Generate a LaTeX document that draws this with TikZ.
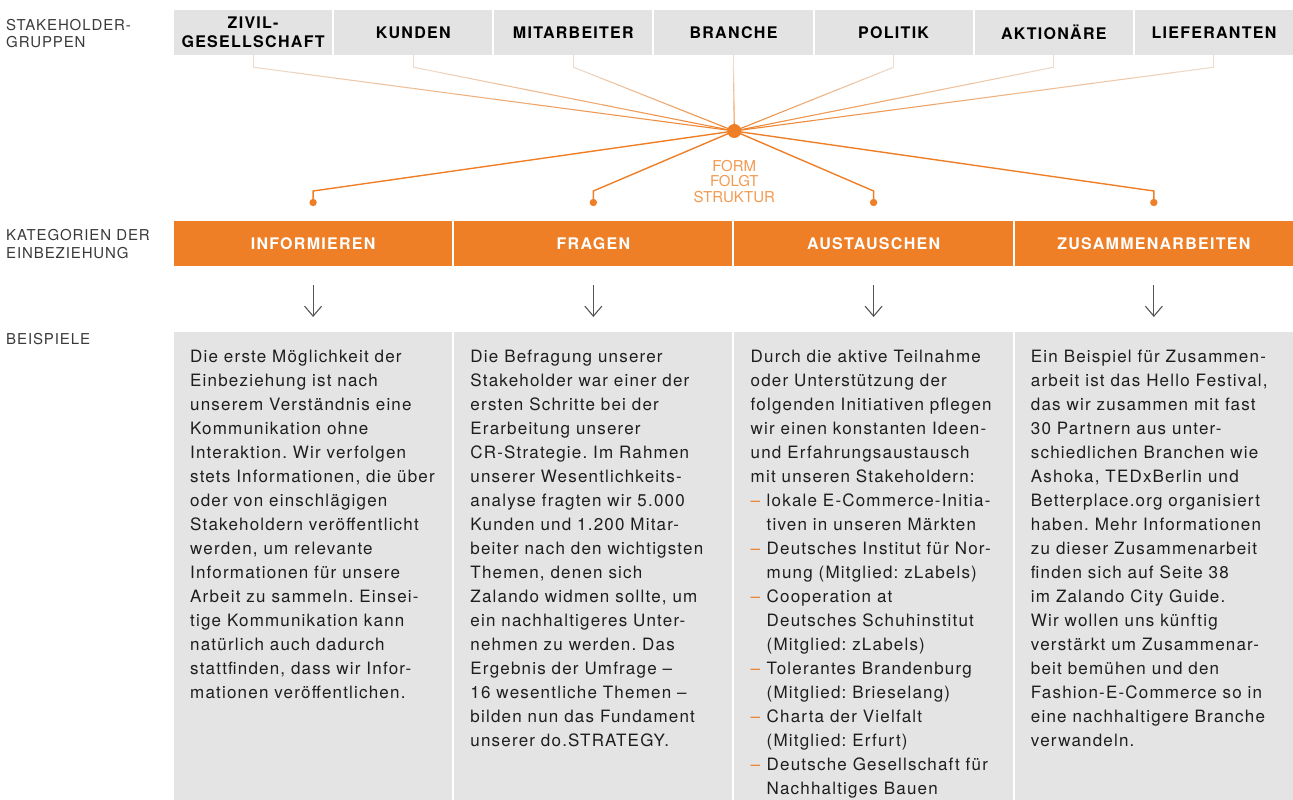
\documentclass[tikz,border=0pt]{standalone}
\usepackage{fontspec}
\setmainfont{TeX Gyre Heros}
\newfontfamily\bodyf[LetterSpace=7]{TeX Gyre Heros}
\newfontfamily\headf[LetterSpace=8]{TeX Gyre Heros}
\newfontfamily\labf[LetterSpace=6]{TeX Gyre Heros}
\newfontfamily\formf{TeX Gyre Heros}
\usetikzlibrary{arrows.meta,calc}
\definecolor{zorange}{HTML}{EE7F27}
\definecolor{zpeach}{HTML}{EEDDCE}
\definecolor{zlorange}{HTML}{F29A52}
\definecolor{zgray}{HTML}{E3E3E3}
\definecolor{zbox}{HTML}{E4E4E4}
\definecolor{ztext}{HTML}{1E1E1E}
\definecolor{zlab}{HTML}{3A3A3A}
\definecolor{zarrow}{HTML}{555555}
\newcommand\dsh{\makebox[16pt][l]{\textcolor{zorange}{–}}}
\newcommand\ind{\hspace*{16pt}}
\begin{document}
\frenchspacing
\begin{tikzpicture}[x=1pt,y=-1pt,
  hbox/.style={fill=zgray, draw=none, minimum width=158.14pt, minimum height=45pt, inner sep=0pt,
    align=center, text=black, font=\headf\bfseries\fontsize{16}{19}\selectfont},
  cbox/.style={fill=zorange, draw=none, minimum width=278.25pt, minimum height=45pt, inner sep=0pt,
    text=white, font=\headf\bfseries\fontsize{16}{19}\selectfont},
  tbox/.style={fill=zbox, draw=none, minimum width=278.25pt, minimum height=468pt, inner sep=0pt},
  ptext/.style={anchor=north west, inner sep=0pt, align=left, text=ztext,
    font=\frenchspacing\bodyf\fontsize{17}{24}\selectfont},
  lab/.style={anchor=west, inner sep=0pt, align=left, text=zlab,
    font=\labf\fontsize{15}{17.5}\selectfont},
  botline/.style={draw=zorange, line width=1.4pt},
  dotnode/.style={circle, fill=zorange, draw=none, minimum size=7.4pt, inner sep=0pt},
  downarrow/.style={draw=zarrow, line width=1.1pt, -{Straight Barb[length=10pt,width=17pt,line width=1.1pt]}}
]
\useasboundingbox (0,0) rectangle (1293,800);

% left labels
\node[lab] (l1) at (6,33.5) {STAKEHOLDER-\\GRUPPEN};
\node[lab] (l2) at (6,244) {KATEGORIEN DER\\EINBEZIEHUNG};
\node[lab] (l3) at (6,339) {BEISPIELE};

% stakeholder boxes
\node[hbox] (z1) at (253.07,32.5) {ZIVIL-\\GESELLSCHAFT};
\node[hbox] (z2) at (413.21,32.5) {KUNDEN};
\node[hbox] (z3) at (573.35,32.5) {MITARBEITER};
\node[hbox] (z4) at (733.49,32.5) {BRANCHE};
\node[hbox] (z5) at (893.63,32.5) {POLITIK};
\node[hbox] (z6) at (1053.77,32.5) {AKTIONÄRE};
\node[hbox] (z7) at (1213.91,32.5) {LIEFERANTEN};

% hub
\coordinate (hubc) at (734.3,131);

% top connectors with fading colour
\foreach \i in {1,...,7}{
  \draw[draw=zpeach, line width=1.1pt] (z\i.south) -- ++(0,12) coordinate (k\i);
  \foreach \j in {0,...,11}{
    \pgfmathsetmacro{\pa}{\j/12}
    \pgfmathsetmacro{\pb}{(\j+1)/12}
    \pgfmathsetmacro{\pc}{100*(\j+0.5)/12}
    \draw[draw=zorange!\pc!zpeach, line width=1.1pt] ($(k\i)!\pa!(hubc)$) -- ($(k\i)!\pb!(hubc)$);
  }
}

% category bar
\node[cbox] (c1) at (313.1,243.5) {INFORMIEREN};
\node[cbox] (c2) at (593.35,243.5) {FRAGEN};
\node[cbox] (c3) at (873.6,243.5) {AUSTAUSCHEN};
\node[cbox] (c4) at (1153.85,243.5) {ZUSAMMENARBEITEN};

% dots and bottom connectors
\node[dotnode] (d1) at (313.1,202.5) {};
\node[dotnode] (d2) at (593.35,202.5) {};
\node[dotnode] (d3) at (873.6,202.5) {};
\node[dotnode] (d4) at (1153.85,202.5) {};
\foreach \i/\x in {1/313.1,2/593.35,3/873.6,4/1153.85}{
  \coordinate (e\i) at (\x,191);
  \draw[botline] (hubc) -- (e\i) -- (d\i.center);
}
\node[circle, fill=zorange, minimum size=14pt, inner sep=0pt] (hub) at (hubc) {};

\node[inner sep=0pt, align=center, text=zlorange, font=\formf\fontsize{15}{15.5}\selectfont] (form) at (734.3,181.5) {FORM\\FOLGT\\STRUKTUR};

% arrows
\foreach \i/\x in {1/313.1,2/593.35,3/873.6,4/1153.85}{
  \coordinate (as\i) at (\x,285);
  \coordinate (ae\i) at (\x,317);
  \draw[downarrow] (as\i) -- (ae\i);
}

% example boxes
\node[tbox] (b1) at (313.1,566) {};
\node[tbox] (b2) at (593.35,566) {};
\node[tbox] (b3) at (873.6,566) {};
\node[tbox] (b4) at (1153.85,566) {};

\node[ptext] (p1) at (190,350) {Die erste Möglichkeit der\\
Einbeziehung ist nach\\
unserem Verständnis eine\\
Kommunikation ohne\\
Interaktion. Wir verfolgen\\
stets Informationen, die über\\
oder von einschlägigen\\
Stakeholdern veröffentlicht\\
werden, um relevante\\
Informationen für unsere\\
Arbeit zu sammeln. Einsei-\\
tige Kommunikation kann\\
natürlich auch dadurch\\
stattfinden, dass wir Infor-\\
mationen veröffentlichen.};

\node[ptext] (p2) at (470.25,350) {Die Befragung unserer\\
Stakeholder war einer der\\
ersten Schritte bei der\\
Erarbeitung unserer\\
CR-Strategie. Im Rahmen\\
unserer Wesentlichkeits-\\
analyse fragten wir 5.000\\
Kunden und 1.200 Mitar-\\
beiter nach den wichtigsten\\
Themen, denen sich\\
Zalando widmen sollte, um\\
ein nachhaltigeres Unter-\\
nehmen zu werden. Das\\
Ergebnis der Umfrage –\\
16 wesentliche Themen –\\
bilden nun das Fundament\\
unserer do.STRATEGY.};

\node[ptext] (p3) at (750.5,350) {Durch die aktive Teilnahme\\
oder Unterstützung der\\
folgenden Initiativen pflegen\\
wir einen konstanten Ideen-\\
und Erfahrungsaustausch\\
mit unseren Stakeholdern:\\
\dsh lokale E-Commerce-Initia-\\
\ind tiven in unseren Märkten\\
\dsh Deutsches Institut für Nor-\\
\ind mung (Mitglied: zLabels)\\
\dsh Cooperation at\\
\ind Deutsches Schuhinstitut\\
\ind (Mitglied: zLabels)\\
\dsh Tolerantes Brandenburg\\
\ind (Mitglied: Brieselang)\\
\dsh Charta der Vielfalt\\
\ind (Mitglied: Erfurt)\\
\dsh Deutsche Gesellschaft für\\
\ind Nachhaltiges Bauen};

\node[ptext] (p4) at (1030.75,350) {Ein Beispiel für Zusammen-\\
arbeit ist das Hello Festival,\\
das wir zusammen mit fast\\
30 Partnern aus unter-\\
schiedlichen Branchen wie\\
Ashoka, TEDxBerlin und\\
Betterplace.org organisiert\\
haben. Mehr Informationen\\
zu dieser Zusammenarbeit\\
finden sich auf Seite 38\\
im Zalando City Guide.\\
Wir wollen uns künftig\\
verstärkt um Zusammenar-\\
beit bemühen und den\\
Fashion-E-Commerce so in\\
eine nachhaltigere Branche\\
verwandeln.};
\end{tikzpicture}
\end{document}
